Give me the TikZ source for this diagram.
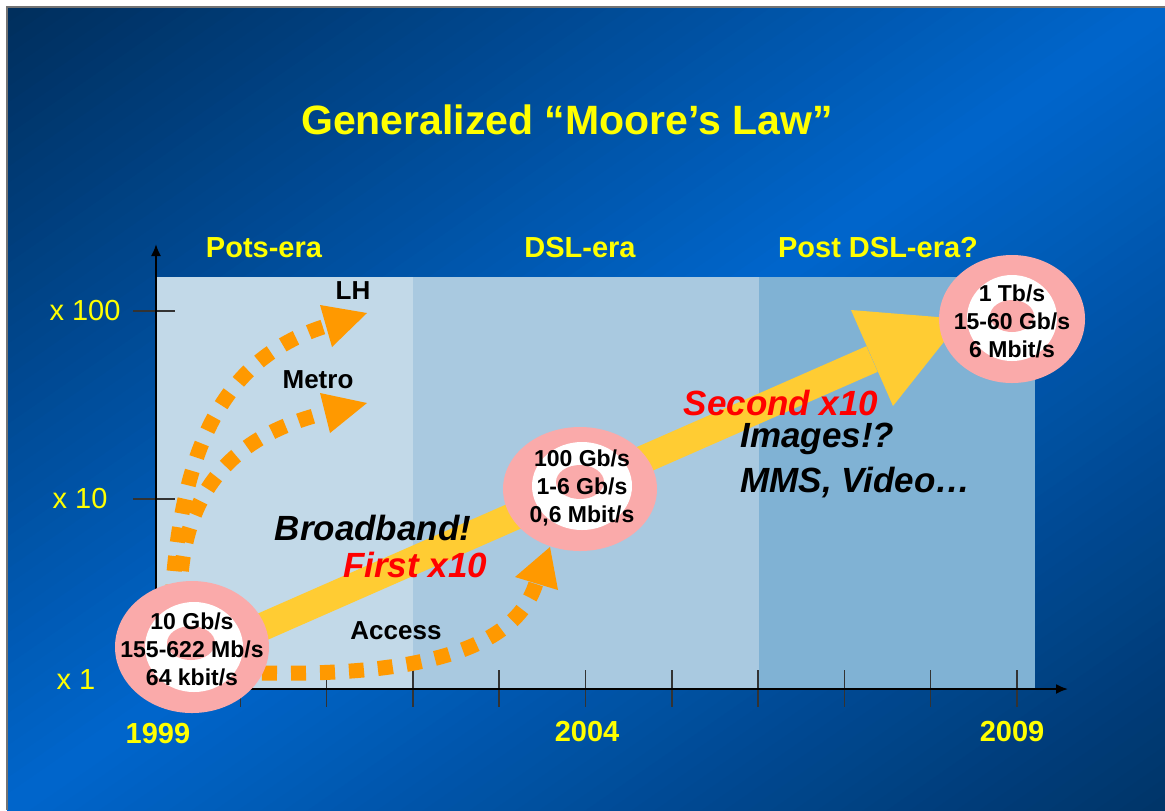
\documentclass[tikz,border=0pt]{standalone}
\usepackage{fontspec}
\setmainfont{Liberation Sans}
\usetikzlibrary{arrows.meta}
\definecolor{bgdark}{RGB}{0,46,92}
\definecolor{bgmid}{RGB}{0,102,204}
\definecolor{bgdarkb}{RGB}{0,52,104}
\definecolor{bandA}{RGB}{194,217,232}
\definecolor{bandB}{RGB}{169,201,224}
\definecolor{bandC}{RGB}{128,178,212}
\definecolor{pinkc}{RGB}{250,170,170}
\definecolor{arrowy}{RGB}{255,204,51}
\definecolor{dotor}{RGB}{255,153,0}
\definecolor{ylw}{RGB}{255,255,0}
\tikzset{
  titletext/.style={font=\fontsize{20.5}{24}\selectfont\bfseries, text=ylw, inner sep=0},
  eratext/.style={font=\fontsize{14.5}{17}\selectfont\bfseries, text=ylw, inner sep=0},
  ylabtext/.style={font=\fontsize{14.5}{17}\selectfont, text=ylw, inner sep=0},
  lbltext/.style={font=\fontsize{13}{15}\selectfont\bfseries, text=black, inner sep=0},
  bigtext/.style={font=\fontsize{17.5}{22.5}\selectfont\bfseries\itshape, inner sep=0},
  ctext/.style={font=\fontsize{11.5}{14}\selectfont\bfseries, align=center, inner sep=0},
  axisline/.style={line width=1pt, black, -{Latex[length=6pt,width=5pt]}},
  tickline/.style={line width=0.75pt, black!80},
  dotline/.style={dotor, line width=7.5pt, dash pattern=on 7.5pt off 7pt},
  dothead/.style={fill=dotor},
}
\begin{document}
\begin{tikzpicture}[x=0.5pt,y=-0.5pt]
\useasboundingbox (0,0) rectangle (1165,810);
\fill[white] (0,0) rectangle (1165,810);
% diagonal gradient background built from strips
\begin{scope}
\clip (7,7) rectangle (1165,810);
\foreach \i in {0,...,99} {
  \pgfmathsetmacro{\sa}{\i*0.02}
  \pgfmathsetmacro{\sb}{\i*0.02+0.024}
  \pgfmathtruncatemacro{\pc}{\i<50 ? (\i*2+1) : (200-\i*2-1)}
  \ifnum\i<50 \def\cc{bgmid!\pc!bgdark}\else\def\cc{bgmid!\pc!bgdarkb}\fi
  \fill[\cc] ({7+(\sa+1)*1158},-796) -- ({7+(\sb+1)*1158},-796) -- ({7+(\sb-2)*1158},1613) -- ({7+(\sa-2)*1158},1613) -- cycle;
}
\end{scope}
\draw[black!55, line width=1pt] (7,810) -- (7,7) -- (1165,7);

% bands
\fill[bandA] (157,277) rectangle (413,689);
\fill[bandB] (413,277) rectangle (759,689);
\fill[bandC] (759,277) rectangle (1035,689);

% ticks
\draw[tickline] (133,311) -- (175,311);
\draw[tickline] (133,499) -- (175,499);
\foreach \k in {1,...,10} {
  \draw[tickline] ({154+86.3*\k},670) -- ({154+86.3*\k},707);
}
% axes
\coordinate (o) at (156,689);
\coordinate (ytop) at (156,244);
\coordinate (xend) at (1068,689);
\draw[axisline] (o) -- (ytop);
\draw[axisline] (o) -- (xend);

% circle centres
\coordinate (c1) at (192,647);
\coordinate (c2) at (580,489);
\coordinate (c3) at (1012,319);

% big arrow
\coordinate (a0) at (196,656);
\coordinate (hb) at (872,359);
\coordinate (hl) at (851,310);
\coordinate (hr) at (893,406);
\coordinate (tip) at (962,319);
\draw[arrowy, line width=14pt] (a0) -- (hb);
\fill[arrowy] (hl) -- (tip) -- (hr) -- cycle;

% dotted arrows
\coordinate (lhs) at (172,600);
\coordinate (lhb) at (326,326);
\draw[dotline] (lhs) .. controls (182,420) and (241,353) .. (lhb);
\fill[dothead] (320,305) -- (367,313) -- (332,347) -- cycle;
\coordinate (mes) at (180,600);
\coordinate (meb) at (325,413);
\draw[dotline] (mes) .. controls (180,480) and (245,433) .. (meb);
\fill[dothead] (320,393) -- (367,403) -- (330,433) -- cycle;
\coordinate (acs) at (262,673);
\coordinate (acb) at (536,583);
\draw[dotline] (acs) .. controls (420,676) and (516,649) .. (acb);
\fill[dothead] (515,577) -- (550,547) -- (558,590) -- cycle;

% circles
\fill[pinkc] (c1) ellipse [x radius=77, y radius=66];
\fill[white] (194,647) ellipse [x radius=49, y radius=45];
\fill[pinkc] (191,643) ellipse [x radius=24, y radius=17];
\node[ctext] (n1) at (192,649) {10 Gb/s\\155-622 Mb/s\\64 kbit/s};

\fill[pinkc] (c2) ellipse [x radius=77, y radius=62];
\fill[white] (582,486) ellipse [x radius=50, y radius=44];
\fill[pinkc] (580,482) ellipse [x radius=24, y radius=17];
\node[ctext] (n2) at (582,488) {100 Gb/s\\1-6 Gb/s\\0,6 Mbit/s};

\fill[pinkc] (c3) ellipse [x radius=73, y radius=64];
\fill[white] (1012,318) ellipse [x radius=45, y radius=43];
\fill[pinkc] (1012,316) ellipse [x radius=22, y radius=16];
\node[ctext] (n3) at (1012,321) {1 Tb/s\\15-60 Gb/s\\6 Mbit/s};

% texts
\node[titletext] (title) at (567,120) {Generalized “Moore’s Law”};
\node[eratext] (era1) at (264,248) {Pots-era};
\node[eratext] (era2) at (580,248) {DSL-era};
\node[eratext] (era3) at (878,248) {Post DSL-era?};
\node[eratext] (y1) at (158,733) {1999};
\node[eratext] (y2) at (587,731) {2004};
\node[eratext] (y3) at (1012,731) {2009};
\node[ylabtext] (l100) at (85,311) {x 100};
\node[ylabtext] (l10) at (80,499) {x 10};
\node[ylabtext] (l1) at (76,680) {x 1};
\node[lbltext] (lh) at (353,291) {LH};
\node[lbltext] (metro) at (318,380) {Metro};
\node[lbltext] (access) at (396,631) {Access};
\node[bigtext, text=black] (bb) at (373,528) {Broadband!};
\node[bigtext, text=red] (f10) at (415,565) {First x10};
\node[bigtext, text=red] (s10) at (781,403) {Second x10};
\node[bigtext, text=black, align=left, anchor=west] (img) at (740,460) {Images!?\\MMS, Video…};
\end{tikzpicture}
\end{document}
